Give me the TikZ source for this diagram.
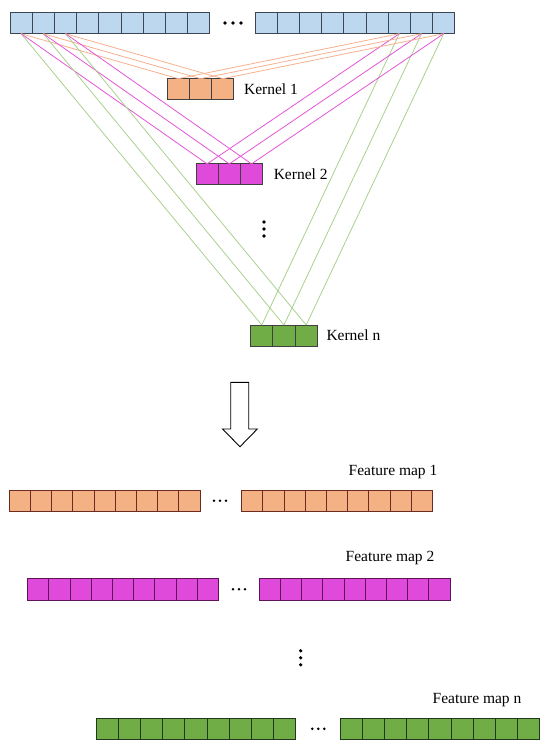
\documentclass[tikz,border=0pt]{standalone}
\usepackage{fontspec}
\setmainfont{Liberation Serif}
\usetikzlibrary{positioning}

\definecolor{inblue}{HTML}{BDD7EE}
\definecolor{inedge}{HTML}{3B4654}
\definecolor{korange}{HTML}{F4B183}
\definecolor{kmagenta}{HTML}{E04ADB}
\definecolor{kgreen}{HTML}{70AD47}
\definecolor{lorange}{HTML}{F6B08E}
\definecolor{lmagenta}{HTML}{E455D8}
\definecolor{lgreen}{HTML}{A9D18E}
\definecolor{oedge}{HTML}{6B2A22}
\definecolor{medge}{HTML}{5E1458}
\definecolor{gedge}{HTML}{22381A}

\newcommand*{\cw}{22.2}
\newcommand*{\fw}{21.2}

\begin{document}
\begin{tikzpicture}
[
	x=1pt,
	y=-1pt,
	cell/.style={rectangle,draw=#1,line width=0.9pt,inner sep=0pt,outer sep=0pt,minimum width=\cw pt,minimum height=21pt},
	fcell/.style={cell=#1,minimum width=\fw pt,minimum height=21.5pt},
	lbl/.style={inner sep=0pt,font=\fontsize{15.5}{18}\selectfont},
	conn/.style={line width=0.8pt}
]
	\useasboundingbox (0,0) rectangle (550,748);

	% input sequence
	\foreach \i in {1,...,9} {
		\node[cell=inedge,fill=inblue] (inL\i) at ({10+\cw*(\i-0.5)},23.2) {};
		\node[cell=inedge,fill=inblue] (inR\i) at ({255+\cw*(\i-0.5)},23.2) {};
	}
	\foreach \k in {-1,0,1} \fill (233+8*\k,23) circle (1.9);

	% kernels
	\foreach \i in {1,2,3} {
		\node[cell=black!75,fill=korange] (kA\i) at ({167.3+\cw*(\i-0.5)},89.2) {};
		\node[cell=black!75,fill=kmagenta] (kB\i) at ({196+\cw*(\i-0.5)},174.4) {};
		\node[cell=black!75,fill=kgreen] (kN\i) at ({250.7+\cw*(\i-0.5)},335.5) {};
	}
	\node[lbl,right=10pt of kA3] (kAlbl) {Kernel 1};
	\node[lbl,right=11pt of kB3] (kBlbl) {Kernel 2};
	\node[lbl,right=9pt of kN3] (kNlbl) {Kernel n};

	\foreach \k in {-1,0,1} \fill (264,229+7*\k) circle (1.8);

	% connections
	\foreach \i [evaluate=\i as \j using int(\i+6)] in {1,2,3} {
		\draw[conn,lgreen] (inL\i.south) -- (kN\i.north);
		\draw[conn,lgreen] (inR\j.south) -- (kN\i.north);
		\draw[conn,lmagenta] (inL\i.south) -- (kB\i.north);
		\draw[conn,lmagenta] (inR\j.south) -- (kB\i.north);
		\draw[conn,lorange] (inL\i.south) -- (kA\i.north);
		\draw[conn,lorange] (inR\j.south) -- (kA\i.north);
	}

	% arrow
	\draw[line width=0.9pt,fill=white] (230.7,382.3) -- (248.7,382.3) -- (248.7,429) -- (257.3,429)
		-- (240,446.7) -- (222.5,429) -- (230.7,429) -- cycle;

	% feature maps
	\foreach \i in {1,...,9} {
		\node[fcell=oedge,fill=korange] (fA\i) at ({9.3+\fw*(\i-0.5)},500.8) {};
		\node[fcell=oedge,fill=korange] (fAr\i) at ({241.7+\fw*(\i-0.5)},500.8) {};
		\node[fcell=medge,fill=kmagenta] (fB\i) at ({27.7+\fw*(\i-0.5)},589.2) {};
		\node[fcell=medge,fill=kmagenta] (fBr\i) at ({259.3+\fw*(\i-0.5)},589.2) {};
		\node[cell=gedge,fill=kgreen] (fN\i) at ({96+\cw*(\i-0.5)},728.8) {};
		\node[cell=gedge,fill=kgreen] (fNr\i) at ({340+\cw*(\i-0.5)},728.8) {};
	}
	\foreach \k in {-1,0,1} {
		\fill (220+6*\k,500.8) circle (1.4);
		\fill (239+6*\k,589.2) circle (1.4);
		\fill (318.3+6*\k,728.8) circle (1.4);
		\fill (300.7,657.8+7*\k) circle (1.8);
	}
	\node[lbl] (fAlbl) at (393,472) {Feature map 1};
	\node[lbl] (fBlbl) at (390,558) {Feature map 2};
	\node[lbl] (fNlbl) at (477,700) {Feature map n};

\end{tikzpicture}
\end{document}
